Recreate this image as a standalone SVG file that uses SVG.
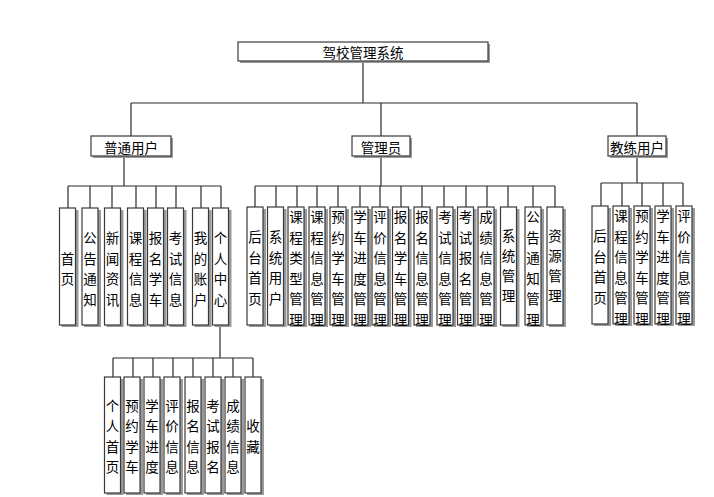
<svg xmlns="http://www.w3.org/2000/svg" width="714" height="497" viewBox="0 0 714 497">
<defs>
<style>
.bx{fill:#fff;stroke:#3a3a3a;stroke-width:1.2}
.sh{fill:#9a9a9a}
.ln{fill:none;stroke:#2a2a2a;stroke-width:1.2}
text{font-family:"Noto Sans CJK SC","Noto Sans",sans-serif;font-size:13.5px;fill:#000;text-anchor:middle;dominant-baseline:central}
</style>
</defs>
<rect width="714" height="497" fill="#fff"/>
<g id="connectors">
<path class="ln" d="M363 61V103M131 103H637M131 103V136M381 103V136M637 103V136"/>
<path class="ln" d="M124 156V186M68 186H221M68 186V208M90 186V208M112 186V208M136 186V208M156 186V208M176 186V208M201 186V208M221 186V208"/>
<path class="ln" d="M381 156V186M255 186H555M255 186V207M276 186V207M297 186V207M317 186V207M338 186V207M360 186V207M380 186V207M401 186V207M422 186V207M444 186V207M466 186V207M487 186V207M508 186V207M533 186V207M555 186V207"/>
<path class="ln" d="M637 156V183M601 183H683M601 183V206M622 183V206M642 183V206M663 183V206M683 183V206"/>
<path class="ln" d="M220 325V358M113 358H253M113 358V377M133 358V377M153 358V377M173 358V377M193 358V377M213 358V377M233 358V377M253 358V377"/>
</g>
<g id="root"><rect class="sh" x="240" y="44" width="250" height="19"/><rect class="bx" x="238" y="42" width="250" height="19"/><text x="363" y="52">驾校管理系统</text></g>
<g id="user"><rect class="sh" x="93" y="138" width="80" height="20"/><rect class="bx" x="91" y="136" width="80" height="20"/><text x="131" y="146.5">普通用户</text></g>
<g id="admin"><rect class="sh" x="354" y="138" width="58" height="20"/><rect class="bx" x="352" y="136" width="58" height="20"/><text x="381" y="146.5">管理员</text></g>
<g id="coach"><rect class="sh" x="610" y="138" width="58" height="20"/><rect class="bx" x="608" y="136" width="58" height="20"/><text x="637" y="146.5">教练用户</text></g>

<!-- normal user leaves -->
<g id="u1"><rect class="sh" x="61.5" y="210" width="17" height="117"/><rect class="bx" x="59.5" y="208" width="16" height="117"/><text x="67.5" y="257.7">首<tspan x="67.5" y="278.3">页</tspan></text></g>
<g id="u2"><rect class="sh" x="84" y="210" width="17" height="117"/><rect class="bx" x="82" y="208" width="16" height="117"/><text x="90" y="237.1">公<tspan x="90" y="257.7">告</tspan><tspan x="90" y="278.3">通</tspan><tspan x="90" y="298.9">知</tspan></text></g>
<g id="u3"><rect class="sh" x="106.5" y="210" width="17" height="117"/><rect class="bx" x="104.5" y="208" width="16" height="117"/><text x="112.5" y="237.1">新<tspan x="112.5" y="257.7">闻</tspan><tspan x="112.5" y="278.3">资</tspan><tspan x="112.5" y="298.9">讯</tspan></text></g>
<g id="u4"><rect class="sh" x="129.5" y="210" width="17" height="117"/><rect class="bx" x="127.5" y="208" width="16" height="117"/><text x="135.5" y="237.1">课<tspan x="135.5" y="257.7">程</tspan><tspan x="135.5" y="278.3">信</tspan><tspan x="135.5" y="298.9">息</tspan></text></g>
<g id="u5"><rect class="sh" x="149.5" y="210" width="17" height="117"/><rect class="bx" x="147.5" y="208" width="16" height="117"/><text x="155.5" y="237.1">报<tspan x="155.5" y="257.7">名</tspan><tspan x="155.5" y="278.3">学</tspan><tspan x="155.5" y="298.9">车</tspan></text></g>
<g id="u6"><rect class="sh" x="169.5" y="210" width="17" height="117"/><rect class="bx" x="167.5" y="208" width="16" height="117"/><text x="175.5" y="237.1">考<tspan x="175.5" y="257.7">试</tspan><tspan x="175.5" y="278.3">信</tspan><tspan x="175.5" y="298.9">息</tspan></text></g>
<g id="u7"><rect class="sh" x="194.5" y="210" width="17" height="117"/><rect class="bx" x="192.5" y="208" width="16" height="117"/><text x="200.5" y="237.1">我<tspan x="200.5" y="257.7">的</tspan><tspan x="200.5" y="278.3">账</tspan><tspan x="200.5" y="298.9">户</tspan></text></g>
<g id="u8"><rect class="sh" x="214.5" y="210" width="17" height="117"/><rect class="bx" x="212.5" y="208" width="16" height="117"/><text x="220.5" y="237.1">个<tspan x="220.5" y="257.7">人</tspan><tspan x="220.5" y="278.3">中</tspan><tspan x="220.5" y="298.9">心</tspan></text></g>

<!-- admin leaves -->
<g id="a1"><rect class="sh" x="249" y="209" width="17" height="118"/><rect class="bx" x="247" y="207" width="16" height="118"/><text x="255" y="236">后<tspan x="255" y="256.6">台</tspan><tspan x="255" y="277.2">首</tspan><tspan x="255" y="297.8">页</tspan></text></g>
<g id="a2"><rect class="sh" x="269.5" y="209" width="17" height="118"/><rect class="bx" x="267.5" y="207" width="16" height="118"/><text x="275.5" y="236">系<tspan x="275.5" y="256.6">统</tspan><tspan x="275.5" y="277.2">用</tspan><tspan x="275.5" y="297.8">户</tspan></text></g>
<g id="a3"><rect class="sh" x="290" y="209" width="17" height="118"/><rect class="bx" x="288" y="207" width="16" height="118"/><text x="296" y="216">课<tspan x="296" y="236.6">程</tspan><tspan x="296" y="257.2">类</tspan><tspan x="296" y="277.8">型</tspan><tspan x="296" y="298.4">管</tspan><tspan x="296" y="319">理</tspan></text></g>
<g id="a4"><rect class="sh" x="311" y="209" width="17" height="118"/><rect class="bx" x="309" y="207" width="16" height="118"/><text x="317" y="216">课<tspan x="317" y="236.6">程</tspan><tspan x="317" y="257.2">信</tspan><tspan x="317" y="277.8">息</tspan><tspan x="317" y="298.4">管</tspan><tspan x="317" y="319">理</tspan></text></g>
<g id="a5"><rect class="sh" x="332" y="209" width="17" height="118"/><rect class="bx" x="330" y="207" width="16" height="118"/><text x="338" y="216">预<tspan x="338" y="236.6">约</tspan><tspan x="338" y="257.2">学</tspan><tspan x="338" y="277.8">车</tspan><tspan x="338" y="298.4">管</tspan><tspan x="338" y="319">理</tspan></text></g>
<g id="a6"><rect class="sh" x="354" y="209" width="17" height="118"/><rect class="bx" x="352" y="207" width="16" height="118"/><text x="360" y="216">学<tspan x="360" y="236.6">车</tspan><tspan x="360" y="257.2">进</tspan><tspan x="360" y="277.8">度</tspan><tspan x="360" y="298.4">管</tspan><tspan x="360" y="319">理</tspan></text></g>
<g id="a7"><rect class="sh" x="374" y="209" width="17" height="118"/><rect class="bx" x="372" y="207" width="16" height="118"/><text x="380" y="216">评<tspan x="380" y="236.6">价</tspan><tspan x="380" y="257.2">信</tspan><tspan x="380" y="277.8">息</tspan><tspan x="380" y="298.4">管</tspan><tspan x="380" y="319">理</tspan></text></g>
<g id="a8"><rect class="sh" x="394.5" y="209" width="17" height="118"/><rect class="bx" x="392.5" y="207" width="16" height="118"/><text x="400.5" y="216">报<tspan x="400.5" y="236.6">名</tspan><tspan x="400.5" y="257.2">学</tspan><tspan x="400.5" y="277.8">车</tspan><tspan x="400.5" y="298.4">管</tspan><tspan x="400.5" y="319">理</tspan></text></g>
<g id="a9"><rect class="sh" x="416" y="209" width="17" height="118"/><rect class="bx" x="414" y="207" width="16" height="118"/><text x="422" y="216">报<tspan x="422" y="236.6">名</tspan><tspan x="422" y="257.2">信</tspan><tspan x="422" y="277.8">息</tspan><tspan x="422" y="298.4">管</tspan><tspan x="422" y="319">理</tspan></text></g>
<g id="a10"><rect class="sh" x="439" y="209" width="17" height="118"/><rect class="bx" x="437" y="207" width="16" height="118"/><text x="445" y="216">考<tspan x="445" y="236.6">试</tspan><tspan x="445" y="257.2">信</tspan><tspan x="445" y="277.8">息</tspan><tspan x="445" y="298.4">管</tspan><tspan x="445" y="319">理</tspan></text></g>
<g id="a11"><rect class="sh" x="459.5" y="209" width="17" height="118"/><rect class="bx" x="457.5" y="207" width="16" height="118"/><text x="465.5" y="216">考<tspan x="465.5" y="236.6">试</tspan><tspan x="465.5" y="257.2">报</tspan><tspan x="465.5" y="277.8">名</tspan><tspan x="465.5" y="298.4">管</tspan><tspan x="465.5" y="319">理</tspan></text></g>
<g id="a12"><rect class="sh" x="480" y="209" width="17" height="118"/><rect class="bx" x="478" y="207" width="16" height="118"/><text x="486" y="216">成<tspan x="486" y="236.6">绩</tspan><tspan x="486" y="257.2">信</tspan><tspan x="486" y="277.8">息</tspan><tspan x="486" y="298.4">管</tspan><tspan x="486" y="319">理</tspan></text></g>
<g id="a13"><rect class="sh" x="502.5" y="209" width="17" height="118"/><rect class="bx" x="500.5" y="207" width="16" height="118"/><text x="508.5" y="235">系<tspan x="508.5" y="255">统</tspan><tspan x="508.5" y="275">管</tspan><tspan x="508.5" y="295">理</tspan></text></g>
<g id="a14"><rect class="sh" x="527" y="209" width="17" height="118"/><rect class="bx" x="525" y="207" width="16" height="118"/><text x="533" y="216">公<tspan x="533" y="236.6">告</tspan><tspan x="533" y="257.2">通</tspan><tspan x="533" y="277.8">知</tspan><tspan x="533" y="298.4">管</tspan><tspan x="533" y="319">理</tspan></text></g>
<g id="a15"><rect class="sh" x="549" y="209" width="17" height="118"/><rect class="bx" x="547" y="207" width="16" height="118"/><text x="555" y="235">资<tspan x="555" y="255">源</tspan><tspan x="555" y="275">管</tspan><tspan x="555" y="295">理</tspan></text></g>

<!-- coach leaves -->
<g id="c1"><rect class="sh" x="594" y="208" width="17" height="118"/><rect class="bx" x="592" y="206" width="16" height="118"/><text x="600" y="235">后<tspan x="600" y="255.6">台</tspan><tspan x="600" y="276.2">首</tspan><tspan x="600" y="296.8">页</tspan></text></g>
<g id="c2"><rect class="sh" x="615" y="208" width="17" height="118"/><rect class="bx" x="613" y="206" width="16" height="118"/><text x="621" y="215">课<tspan x="621" y="235.6">程</tspan><tspan x="621" y="256.2">信</tspan><tspan x="621" y="276.8">息</tspan><tspan x="621" y="297.4">管</tspan><tspan x="621" y="318">理</tspan></text></g>
<g id="c3"><rect class="sh" x="636" y="208" width="17" height="118"/><rect class="bx" x="634" y="206" width="16" height="118"/><text x="642" y="215">预<tspan x="642" y="235.6">约</tspan><tspan x="642" y="256.2">学</tspan><tspan x="642" y="276.8">车</tspan><tspan x="642" y="297.4">管</tspan><tspan x="642" y="318">理</tspan></text></g>
<g id="c4"><rect class="sh" x="657" y="208" width="17" height="118"/><rect class="bx" x="655" y="206" width="16" height="118"/><text x="663" y="215">学<tspan x="663" y="235.6">车</tspan><tspan x="663" y="256.2">进</tspan><tspan x="663" y="276.8">度</tspan><tspan x="663" y="297.4">管</tspan><tspan x="663" y="318">理</tspan></text></g>
<g id="c5"><rect class="sh" x="678" y="208" width="17" height="118"/><rect class="bx" x="676" y="206" width="16" height="118"/><text x="684" y="215">评<tspan x="684" y="235.6">价</tspan><tspan x="684" y="256.2">信</tspan><tspan x="684" y="276.8">息</tspan><tspan x="684" y="297.4">管</tspan><tspan x="684" y="318">理</tspan></text></g>

<!-- personal center leaves -->
<g id="p1"><rect class="sh" x="106.5" y="379" width="17" height="116"/><rect class="bx" x="104.5" y="377" width="16" height="116"/><text x="112.5" y="404.5">个<tspan x="112.5" y="425.1">人</tspan><tspan x="112.5" y="445.7">首</tspan><tspan x="112.5" y="466.3">页</tspan></text></g>
<g id="p2"><rect class="sh" x="126" y="379" width="17" height="116"/><rect class="bx" x="124" y="377" width="16" height="116"/><text x="132" y="404.5">预<tspan x="132" y="425.1">约</tspan><tspan x="132" y="445.7">学</tspan><tspan x="132" y="466.3">车</tspan></text></g>
<g id="p3"><rect class="sh" x="146" y="379" width="17" height="116"/><rect class="bx" x="144" y="377" width="16" height="116"/><text x="152" y="404.5">学<tspan x="152" y="425.1">车</tspan><tspan x="152" y="445.7">进</tspan><tspan x="152" y="466.3">度</tspan></text></g>
<g id="p4"><rect class="sh" x="166" y="379" width="17" height="116"/><rect class="bx" x="164" y="377" width="16" height="116"/><text x="172" y="404.5">评<tspan x="172" y="425.1">价</tspan><tspan x="172" y="445.7">信</tspan><tspan x="172" y="466.3">息</tspan></text></g>
<g id="p5"><rect class="sh" x="187" y="379" width="17" height="116"/><rect class="bx" x="185" y="377" width="16" height="116"/><text x="193" y="404.5">报<tspan x="193" y="425.1">名</tspan><tspan x="193" y="445.7">信</tspan><tspan x="193" y="466.3">息</tspan></text></g>
<g id="p6"><rect class="sh" x="207" y="379" width="17" height="116"/><rect class="bx" x="205" y="377" width="16" height="116"/><text x="213" y="404.5">考<tspan x="213" y="425.1">试</tspan><tspan x="213" y="445.7">报</tspan><tspan x="213" y="466.3">名</tspan></text></g>
<g id="p7"><rect class="sh" x="227" y="379" width="17" height="116"/><rect class="bx" x="225" y="377" width="16" height="116"/><text x="233" y="404.5">成<tspan x="233" y="425.1">绩</tspan><tspan x="233" y="445.7">信</tspan><tspan x="233" y="466.3">息</tspan></text></g>
<g id="p8"><rect class="sh" x="247" y="379" width="17" height="116"/><rect class="bx" x="245" y="377" width="16" height="116"/><text x="253" y="425">收<tspan x="253" y="445.6">藏</tspan></text></g>
</svg>
